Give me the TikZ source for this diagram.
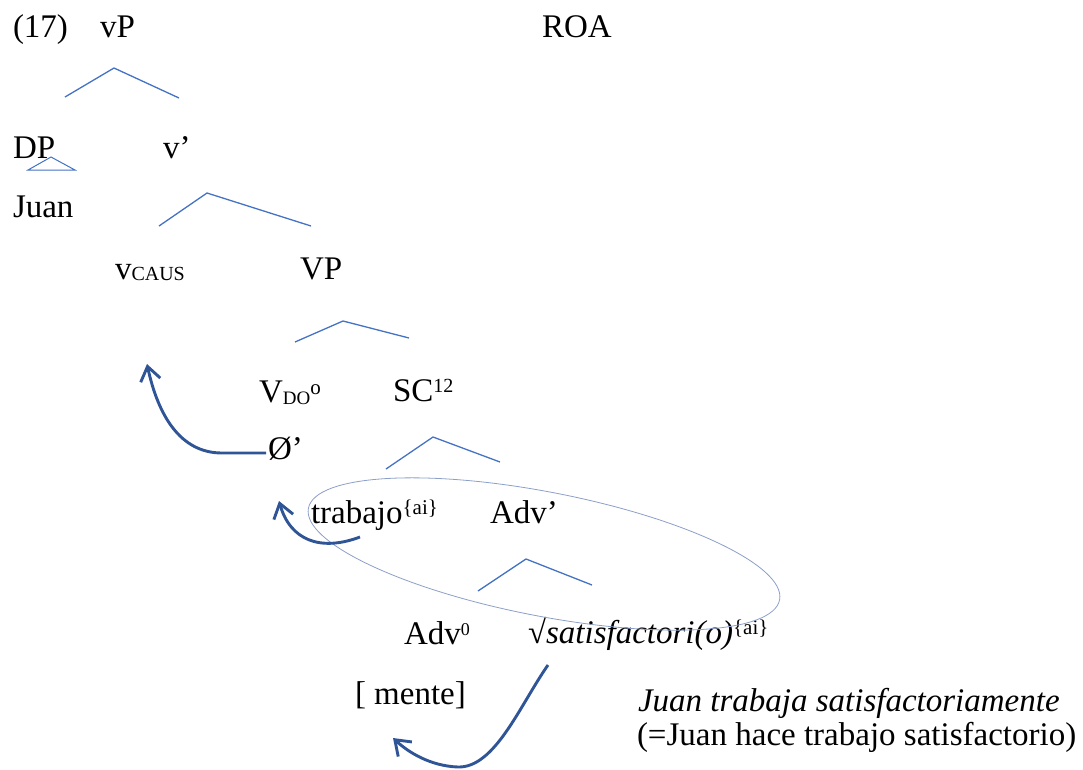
\documentclass[tikz,border=0pt]{standalone}
\usepackage{fontspec}
\setmainfont{Liberation Serif}
\usetikzlibrary{arrows.meta}
\definecolor{branchblue}{HTML}{4472C4}
\definecolor{movblue}{HTML}{2F5597}
\definecolor{ellblue}{HTML}{8C9FC8}
\newcommand\bigtx{\fontsize{33}{39}\selectfont}
\newcommand\myup[3]{\raisebox{#1pt}{\fontsize{#2}{#2}\selectfont #3}}
\newcommand\mydown[3]{\raisebox{-#1pt}{\fontsize{#2}{#2}\selectfont #3}}
\begin{document}
\begin{tikzpicture}[x=1pt,y=-1pt,
  lbl/.style={anchor=base west,inner sep=0pt,outer sep=0pt,font=\bigtx},
  branch/.style={draw=branchblue,line width=1.3pt},
  move/.style={draw=movblue,line width=2.9pt,-{Straight Barb[length=14pt,width=20pt]}},
  halo/.style={draw=ellblue,line width=0.8pt}]
\useasboundingbox (0,0) rectangle (1083,769);
% labels
\node[lbl] (ex) at (13,37) {(17)};
\node[lbl] (vP) at (100,37) {vP};
\node[lbl] (roa) at (542,37) {ROA};
\node[lbl] (DP) at (13,158) {DP};
\node[lbl] (vbar) at (163,158) {v’};
\node[lbl] (juan) at (13,217) {Juan};
\node[lbl] (vcaus) at (115,279) {v\mydown{1}{20}{CAUS}};
\node[lbl] (VP) at (300,279) {VP};
\node[lbl] (Vdo) at (259,402) {V\mydown{2}{19}{DO}\myup{8}{21}{o}};
\node[lbl] (SC) at (393,401) {SC\myup{9}{20}{12}};
\node[lbl] (null) at (268,459) {Ø’};
\node[lbl] (trab) at (311,523) {trabajo\myup{9}{21}{\{ai\}}};
\node[lbl] (advbar) at (490,523) {Adv’};
\node[lbl] (adv0) at (404,644) {Adv\myup{9}{18}{0}};
\node[lbl] (root) at (528,643) {√\textit{satisfactori(o)}\myup{9}{21}{\{ai\}}};
\node[lbl] (mente) at (355,704) {[ mente]};
\node[lbl] (gl1) at (638,711) {\textit{Juan trabaja satisfactoriamente}};
\node[lbl] (gl2) at (637,745) {(=Juan hace trabajo satisfactorio)};
% branch coordinates
\coordinate (a1) at (65,97); \coordinate (a2) at (114,68); \coordinate (a3) at (179,98);
\coordinate (t1) at (51,157); \coordinate (t2) at (28,170); \coordinate (t3) at (75,170);
\coordinate (b1) at (159,226); \coordinate (b2) at (207,193); \coordinate (b3) at (311,226);
\coordinate (c1) at (295,342); \coordinate (c2) at (343,321); \coordinate (c3) at (409,338);
\coordinate (d1) at (386,469); \coordinate (d2) at (433,437); \coordinate (d3) at (500,462);
\coordinate (e1) at (478,591); \coordinate (e2) at (526,559); \coordinate (e3) at (592,585);
\draw[branch] (a1) -- (a2) -- (a3);
\draw[branch,line width=1pt] (t1) -- (t2) -- (t3) -- cycle;
\draw[branch] (b1) -- (b2) -- (b3);
\draw[branch] (c1) -- (c2) -- (c3);
\draw[branch] (d1) -- (d2) -- (d3);
\draw[branch] (e1) -- (e2) -- (e3);
% ellipse around trabajo ... root
\coordinate (ec) at (544,554);
\draw[halo,rotate around={-11:(ec)}] (ec) ellipse [x radius=240pt, y radius=62pt];
% movement arrows
\coordinate (s1) at (266,453); \coordinate (m1) at (222,453); \coordinate (g1) at (147,364);
\draw[move] (s1) -- (m1) .. controls (180,453) and (158,415) .. (g1);
\coordinate (s2) at (360,537); \coordinate (g2) at (279,501);
\draw[move] (s2) .. controls (320,552) and (290,540) .. (g2);
\coordinate (s3) at (548,665); \coordinate (m3) at (458,767); \coordinate (g3) at (393,738);
\draw[move] (s3) .. controls (520,705) and (495,768) .. (m3) .. controls (430,766) and (408,752) .. (g3);
\end{tikzpicture}
\end{document}
